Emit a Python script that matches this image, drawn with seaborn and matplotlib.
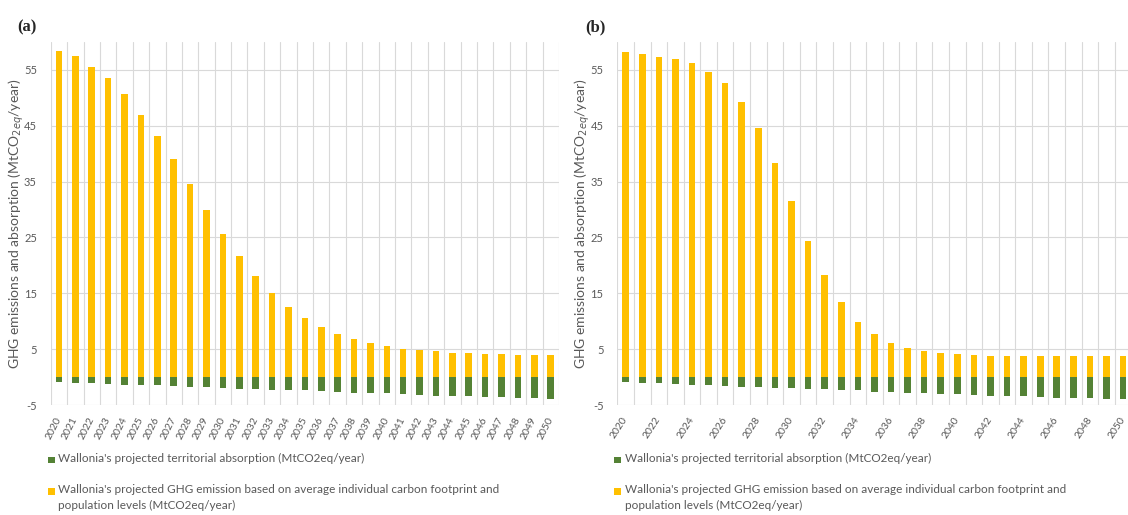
import matplotlib
matplotlib.use("Agg")
import matplotlib.pyplot as plt
from matplotlib.patches import Rectangle
import numpy as np
import pandas as pd
import seaborn as sns

sns.set_style("white")
plt.rcParams["font.family"] = ["Lato", "DejaVu Sans"]

years = [str(y) for y in range(2020, 2051)]

# Scenario (a)
emission_a = [58.4, 57.5, 55.6, 53.5, 50.6, 47.0, 43.2, 39.0, 34.5, 29.9,
              25.6, 21.6, 18.1, 15.1, 12.6, 10.6, 9.0, 7.7, 6.8, 6.1,
              5.5, 5.1, 4.9, 4.7, 4.4, 4.3, 4.1, 4.1, 4.0, 4.0, 4.0]
absorption_a = [-0.8, -1.0, -1.1, -1.25, -1.4, -1.5, -1.5, -1.6, -1.7, -1.85,
                -2.0, -2.1, -2.2, -2.3, -2.4, -2.4, -2.55, -2.7, -2.8, -2.9,
                -2.9, -3.0, -3.15, -3.3, -3.3, -3.4, -3.5, -3.6, -3.7, -3.8, -3.9]

# Scenario (b)
emission_b = [58.2, 57.8, 57.3, 57.0, 56.2, 54.7, 52.6, 49.2, 44.6, 38.4,
              31.5, 24.3, 18.2, 13.4, 9.9, 7.7, 6.1, 5.2, 4.6, 4.3,
              4.05, 3.9, 3.8, 3.8, 3.8, 3.8, 3.8, 3.7, 3.7, 3.7, 3.7]
absorption_b = [-0.9, -1.05, -1.05, -1.25, -1.35, -1.5, -1.6, -1.7, -1.8, -1.9,
                -2.0, -2.15, -2.2, -2.3, -2.4, -2.6, -2.7, -2.8, -2.85, -3.0,
                -3.0, -3.15, -3.3, -3.3, -3.45, -3.55, -3.7, -3.75, -3.8, -3.9, -4.0]

y_ticks = [-5, 5, 15, 25, 35, 45, 55]
legend_labels = [
    "Wallonia's projected territorial absorption (MtCO2eq/year)",
    "Wallonia's projected GHG emission based on average individual carbon footprint and\npopulation levels (MtCO2eq/year)",
]

YELLOW = "#FFC000"
GREEN = "#548235"
GRID = "#D9D9D9"
TEXT = "#595959"

W, H = 1128, 515
fig = plt.figure(figsize=(W / 100, H / 100), dpi=100)


def px_axes(x0, x1, y0, y1):
    return fig.add_axes([x0 / W, 1 - y1 / H, (x1 - x0) / W, (y1 - y0) / H])


def legend_block(sq_x, text_x):
    # square markers with their labels; the first line of each label sits level with its marker
    rows = [(460, GREEN, legend_labels[0]), (491.5, YELLOW, legend_labels[1])]
    for yc, col, lab in rows:
        fig.add_artist(Rectangle((sq_x / W, 1 - (yc + 3.4) / H), 6.8 / W, 6.8 / H,
                                 transform=fig.transFigure, facecolor=col,
                                 edgecolor="none"))
        fig.text(text_x / W, 1 - (yc - 7.5) / H, lab, fontsize=8.5, color=TEXT,
                 ha="left", va="top", linespacing=1.55)


def draw_panel(ax, emission, absorption, tick_step, rot, tag, tag_x, sq_x, text_x):
    df = pd.DataFrame({"year": years, "emission": emission, "absorption": absorption})
    sns.barplot(data=df, x="year", y="emission", color=YELLOW, saturation=1,
                width=0.4, linewidth=0, ax=ax, zorder=3)
    sns.barplot(data=df, x="year", y="absorption", color=GREEN, saturation=1,
                width=0.4, linewidth=0, ax=ax, zorder=3)
    n = len(years)
    ax.set_xlim(-0.5, n - 0.5)
    ax.set_ylim(-5, 60)
    ax.set_yticks(y_ticks)
    ax.set_yticklabels([str(t) for t in y_ticks], color=TEXT, fontsize=8)
    idx = list(range(0, n, tick_step))
    ax.set_xticks(idx)
    ax.set_xticklabels([years[i] for i in idx], rotation=rot, ha="right",
                       va="center", rotation_mode="anchor", color=TEXT, fontsize=7.5)
    ax.set_xticks(np.arange(-0.5, n), minor=True)
    ax.tick_params(axis="both", which="both", length=0)
    ax.tick_params(axis="x", which="major", pad=9)
    ax.tick_params(axis="y", pad=10)
    ax.grid(axis="x", which="minor", color=GRID, linewidth=0.8, zorder=0)
    ax.grid(axis="y", which="major", color=GRID, linewidth=0.8, zorder=0)
    ax.grid(axis="x", which="major", visible=False)
    ax.set_axisbelow(True)
    for s in ax.spines.values():
        s.set_visible(False)
    ax.set_xlabel("")
    ax.set_ylabel("GHG emissions and absorption (MtCO$_{2eq}$/year)",
                  color=TEXT, fontsize=10)
    wpx = ax.get_position().width * W
    ax.yaxis.set_label_coords(-25 / wpx, 0.5)
    fig.text(tag_x / W, 1 - 27 / H, tag, fontsize=12, fontweight="bold",
             family="Liberation Serif", va="center", ha="left")
    legend_block(sq_x, text_x)


ax_a = px_axes(50.8, 558.9, 42, 405)
draw_panel(ax_a, emission_a, absorption_a, 1, 63, "(a)", 17, 48, 58)

ax_b = px_axes(617.4, 1131.4, 42, 405)
draw_panel(ax_b, emission_b, absorption_b, 2, 57, "(b)", 585, 614, 625)

fig.savefig("out.png", dpi=100)
